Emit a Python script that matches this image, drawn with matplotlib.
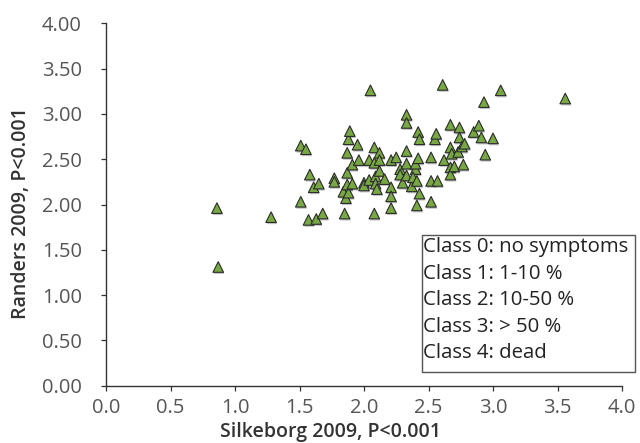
import matplotlib
matplotlib.use("Agg")
import matplotlib.pyplot as plt
import matplotlib.patheffects as pe
from matplotlib.patches import Rectangle
from matplotlib.ticker import FormatStrFormatter

plt.rcParams['font.family'] = ['Open Sans', 'DejaVu Sans']

# values
silkeborg = [0.86, 0.87, 1.28, 1.51, 1.55, 1.51, 1.58, 1.61, 1.65, 1.57, 1.63, 1.68,
             1.77, 1.77, 1.85, 1.86, 1.84, 1.88, 1.87, 1.87, 1.91, 1.91, 1.87, 1.88,
             1.89, 1.95, 1.96, 2.00, 2.00, 2.05, 2.04, 2.04, 2.08, 2.08, 2.09, 2.09,
             2.10, 2.08, 2.12, 2.12, 2.12, 2.16, 2.21, 2.25, 2.21, 2.21, 2.21, 2.28,
             2.28, 2.30, 2.33, 2.33, 2.33, 2.33, 2.33, 2.37, 2.40, 2.40, 2.42, 2.38,
             2.41, 2.43, 2.41, 2.42, 2.43, 2.52, 2.52, 2.52, 2.55, 2.56, 2.57, 2.61,
             2.62, 2.67, 2.67, 2.68, 2.67, 2.67, 2.70, 2.73, 2.74, 2.74, 2.76, 2.78,
             2.77, 2.85, 2.89, 2.91, 2.93, 2.94, 3.00, 3.06, 3.56]
randers = [1.96, 1.31, 1.86, 2.65, 2.61, 2.03, 2.33, 2.19, 2.23, 1.83, 1.84, 1.90,
           2.29, 2.25, 1.90, 2.07, 2.14, 2.13, 2.22, 2.35, 2.23, 2.44, 2.57, 2.72,
           2.81, 2.66, 2.49, 2.24, 2.21, 3.26, 2.49, 2.27, 2.63, 2.46, 2.31, 2.23,
           2.17, 1.90, 2.57, 2.49, 2.37, 2.28, 2.49, 2.52, 2.19, 2.09, 1.96, 2.39,
           2.33, 2.24, 2.99, 2.90, 2.59, 2.45, 2.32, 2.20, 2.39, 2.45, 2.51, 2.30,
           2.26, 2.12, 1.99, 2.80, 2.72, 2.52, 2.26, 2.03, 2.72, 2.78, 2.26, 3.32,
           2.49, 2.88, 2.63, 2.56, 2.41, 2.33, 2.42, 2.58, 2.85, 2.74, 2.64, 2.67,
           2.44, 2.80, 2.87, 2.74, 3.13, 2.55, 2.73, 3.26, 3.17]

x_ticks = [0.0, 0.5, 1.0, 1.5, 2.0, 2.5, 3.0, 3.5, 4.0]
y_ticks = [0.0, 0.5, 1.0, 1.5, 2.0, 2.5, 3.0, 3.5, 4.0]
x_label = "Silkeborg 2009, P<0.001"
y_label = "Randers 2009, P<0.001"
legend_lines = ["Class 0: no symptoms", "Class 1: 1-10 %", "Class 2: 10-50 %",
                "Class 3: > 50 %", "Class 4: dead"]

W, H = 640, 443
fig = plt.figure(figsize=(W / 100, H / 100), dpi=100)
ax = fig.add_axes([106 / W, 1 - 385.7 / H, 516 / W, 362.4 / H])

ax.scatter(silkeborg, randers, marker='^', s=58, facecolor='#77a843',
           edgecolor='#2b2b2b', linewidth=0.8, zorder=3,
           path_effects=[pe.SimplePatchShadow(offset=(0.6, -1.2), shadow_rgbFace='#888888', alpha=0.5),
                         pe.Normal()])

ax.set_xlim(0, 4)
ax.set_ylim(0, 4)
ax.set_xticks(x_ticks)
ax.set_yticks(y_ticks)
ax.xaxis.set_major_formatter(FormatStrFormatter('%.1f'))
ax.yaxis.set_major_formatter(FormatStrFormatter('%.2f'))

for s in ['top', 'right']:
    ax.spines[s].set_visible(False)
for s in ['left', 'bottom']:
    ax.spines[s].set_color('#333333')
    ax.spines[s].set_linewidth(1.0)

ax.tick_params(axis='both', direction='out', length=3.5, width=0.9, color='#333333',
               labelcolor='#555555', labelsize=14.5)
ax.tick_params(axis='x', pad=5)
ax.tick_params(axis='y', pad=14)

ax.set_xlabel(x_label, fontsize=14, fontweight='semibold', color='#333333')
ax.xaxis.set_label_coords(0.436, -0.141)
ax.xaxis.label.set_va('baseline')
ax.set_ylabel(y_label, fontsize=14, fontweight='semibold', color='#333333')
ax.yaxis.set_label_coords(-0.165, 0.475)
ax.yaxis.label.set_va('center')
ax.yaxis.label.set_rotation_mode('default')

# text box (class explanation)
box = Rectangle((422 / W, 1 - 372 / H), (635 - 422) / W, (372 - 234.5) / H,
                transform=fig.transFigure, facecolor='white', edgecolor='#555555',
                linewidth=1.0, zorder=5)
fig.add_artist(box)
for i, line in enumerate(legend_lines):
    fig.text(423 / W, 1 - (252 + i * 26.6) / H, line, fontsize=14.7, color='#222222',
             va='baseline', ha='left', zorder=6)

fig.savefig("out.png", dpi=100)
